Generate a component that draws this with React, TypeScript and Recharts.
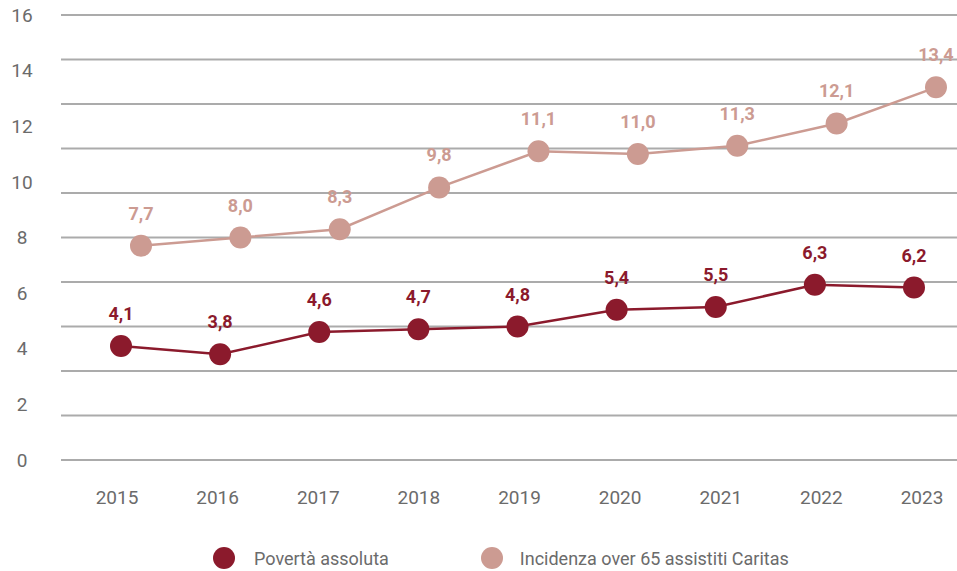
import React from 'react';
import { LineChart, Line, XAxis, YAxis, CartesianGrid, LabelList, Legend } from 'recharts';

const years = ['2015', '2016', '2017', '2018', '2019', '2020', '2021', '2022', '2023'];
const povertaAssoluta = [4.1, 3.8, 4.6, 4.7, 4.8, 5.4, 5.5, 6.3, 6.2];
const incidenzaOver65 = [7.7, 8.0, 8.3, 9.8, 11.1, 11.0, 11.3, 12.1, 13.4];
const yTicks = [0, 2, 4, 6, 8, 10, 12, 14, 16];
const yDomain = [0, 16];
const gridTicks = [0, 1.6, 3.2, 4.8, 6.4, 8, 9.6, 11.2, 12.8, 14.4, 16];

const seriesNames = {
  poverta: 'Povertà assoluta',
  incidenza: 'Incidenza over 65 assistiti Caritas',
};

const DARK = '#8b1a2c';
const LIGHT = '#cc9b92';
const GRID = '#ababab';
const TEXT = '#6b6b6b';
const FONT = 'Roboto, "Noto Sans", sans-serif';

const data = years.map((year, i) => ({
  year,
  poverta: povertaAssoluta[i],
  incidenza: incidenzaOver65[i],
}));

const fmt = (v: any) => (typeof v === 'number' ? v.toFixed(1).replace('.', ',') : v);

const gridGenerator = (props: any) => {
  const scale = props?.yAxis?.scale;
  if (typeof scale === 'function') {
    return gridTicks.map((v) => scale(v));
  }
  const off = props?.offset;
  if (!off) return [];
  const [d0, d1] = yDomain;
  return gridTicks.map((v) => off.top + off.height * (1 - (v - d0) / (d1 - d0)));
};

const YTick = (props: any) => {
  const { x, y, payload } = props;
  return (
    <text x={x} y={y} dy="0.355em" textAnchor="middle" fill={TEXT} fontSize={19} fontFamily={FONT}>
      {payload.value}
    </text>
  );
};

const LegendContent = () => (
  <div
    style={{
      display: 'flex',
      alignItems: 'center',
      paddingLeft: 213,
      height: 24,
      fontFamily: FONT,
      fontSize: 18,
      color: TEXT,
      whiteSpace: 'nowrap',
    }}
  >
    <span style={{ width: 22, height: 22, borderRadius: '50%', background: DARK, display: 'inline-block', marginRight: 19 }} />
    <span>{seriesNames.poverta}</span>
    <span style={{ width: 22, height: 22, borderRadius: '50%', background: LIGHT, display: 'inline-block', marginLeft: 92, marginRight: 17 }} />
    <span>{seriesNames.incidenza}</span>
  </div>
);

export default function App() {
  return (
    <div style={{ position: 'absolute', left: 0, top: 0, width: 957, height: 571, background: '#fff' }}>
      <LineChart width={957} height={571} data={data} margin={{ top: 15, right: 0, bottom: 61, left: 0 }}>
        <CartesianGrid
          vertical={false}
          stroke={GRID}
          strokeWidth={2}
          horizontalCoordinatesGenerator={gridGenerator}
        />
        <XAxis
          dataKey="year"
          axisLine={false}
          tickLine={false}
          tickSize={0}
          tickMargin={31}
          height={50}
          padding={{ left: 56, right: 35 }}
          interval={0}
          tick={{ fill: TEXT, fontSize: 19, fontFamily: FONT }}
        />
        <XAxis xAxisId="dark" dataKey="year" hide padding={{ left: 60, right: 43 }} />
        <XAxis xAxisId="light" dataKey="year" hide padding={{ left: 80, right: 21 }} />
        <YAxis
          domain={yDomain}
          ticks={yTicks}
          interval={0}
          width={61}
          axisLine={false}
          tickLine={false}
          tickSize={0}
          tickMargin={39}
          tick={<YTick />}
        />
        <Legend
          layout="vertical"
          align="center"
          verticalAlign="middle"
          wrapperStyle={{ top: 546, left: 0, width: 957 }}
          content={<LegendContent />}
        />
        <Line
          xAxisId="light"
          dataKey="incidenza"
          name={seriesNames.incidenza}
          stroke={LIGHT}
          strokeWidth={2.5}
          dot={{ r: 11, fill: LIGHT, stroke: 'none' }}
          activeDot={false}
          isAnimationActive={false}
        >
          <LabelList
            dataKey="incidenza"
            position="top"
            offset={26}
            formatter={fmt}
            fill={LIGHT}
            fontSize={18}
            fontWeight={700}
            fontFamily={FONT}
          />
        </Line>
        <Line
          xAxisId="dark"
          dataKey="poverta"
          name={seriesNames.poverta}
          stroke={DARK}
          strokeWidth={2.5}
          dot={{ r: 11, fill: DARK, stroke: 'none' }}
          activeDot={false}
          isAnimationActive={false}
        >
          <LabelList
            dataKey="poverta"
            position="top"
            offset={26}
            formatter={fmt}
            fill={DARK}
            fontSize={18}
            fontWeight={700}
            fontFamily={FONT}
          />
        </Line>
      </LineChart>
    </div>
  );
}
